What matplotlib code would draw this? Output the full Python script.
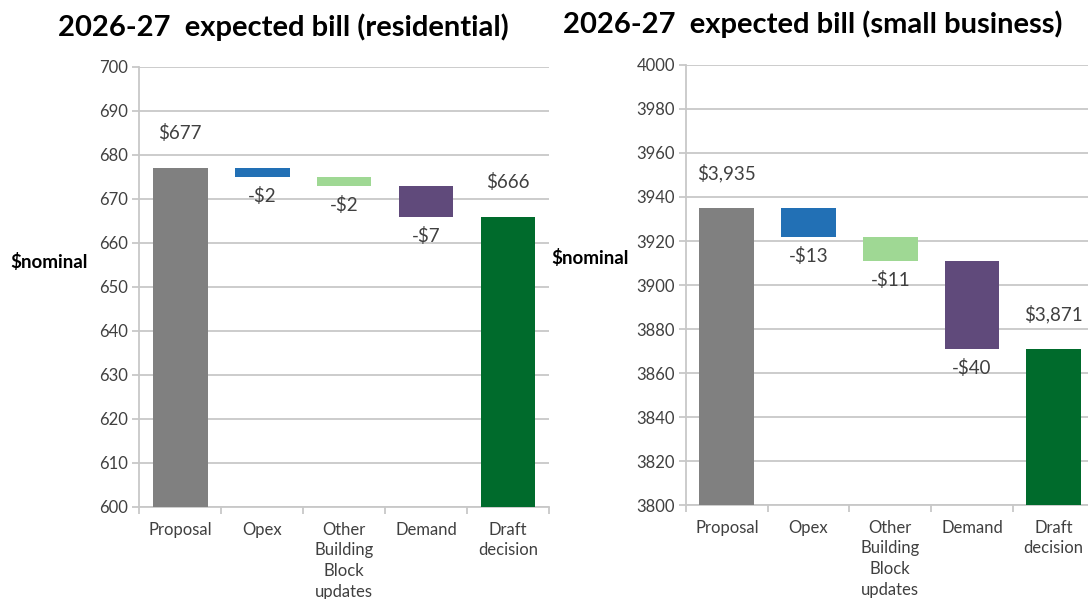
import numpy as np
import matplotlib
matplotlib.use('Agg')
from matplotlib import pyplot as plt

plt.rcParams['font.family'] = ['Lato', 'DejaVu Sans']

# waterfall steps for the 2026-27 bill
categories = ['Proposal', 'Opex', 'Other\nBuilding\nBlock\nupdates', 'Demand', 'Draft\ndecision']

res_start = 677
res_steps = [-2, -2, -7]
res_end = 666

sb_start = 3935
sb_steps = [-13, -11, -40]
sb_end = 3871

step_colors = ['#2270b5', '#9fd894', '#604a7b']
total_color_start = '#808080'
total_color_end = '#006b2c'
grid_color = '#c8c8c8'
text_color = '#404040'


def money(v):
    s = '${:,}'.format(abs(v))
    return '-' + s if v < 0 else s


def waterfall(ax, start, steps, end, ylim, yticks):
    x = np.arange(len(categories))
    width = 0.67
    # running bottoms for the floating steps
    level = start
    ax.bar(x[0], start - ylim[0], bottom=ylim[0], width=width, color=total_color_start, zorder=3)
    ax.annotate(money(start), (x[0], start), xytext=(0, 25), textcoords='offset points',
                ha='center', va='center', fontsize=13.5, color=text_color)
    for i, step in enumerate(steps):
        ax.bar(x[i + 1], -step, bottom=level + step, width=width, color=step_colors[i], zorder=3)
        ax.annotate(money(step), (x[i + 1], level + step), xytext=(0, -14), textcoords='offset points',
                    ha='center', va='center', fontsize=13.5, color=text_color)
        level += step
    ax.bar(x[-1], end - ylim[0], bottom=ylim[0], width=width, color=total_color_end, zorder=3)
    ax.annotate(money(end), (x[-1], end), xytext=(0, 25), textcoords='offset points',
                ha='center', va='center', fontsize=13.5, color=text_color)

    ax.set_xlim(-0.5, len(categories) - 0.5)
    ax.set_ylim(*ylim)
    ax.set_yticks(yticks)
    ax.set_xticks(np.arange(len(categories) + 1) - 0.5, minor=False)
    ax.set_xticklabels([])
    for i, c in enumerate(categories):
        ax.text(x[i], -0.033, c, transform=ax.get_xaxis_transform(), ha='center', va='top',
                fontsize=12, color=text_color, linespacing=1.36)
    ax.yaxis.grid(True, color=grid_color, linewidth=1.3, zorder=0)
    for side in ['top', 'right']:
        ax.spines[side].set_visible(False)
    for side in ['left', 'bottom']:
        ax.spines[side].set_color(grid_color)
        ax.spines[side].set_linewidth(1.3)
    ax.tick_params(axis='both', colors=grid_color, length=5, width=1.3)
    ax.tick_params(axis='y', labelsize=12, labelcolor=text_color, pad=3)
    ax.set_ylabel('$nominal', rotation=0, fontsize=13.5, fontweight='bold', color='black',
                  ha='left', va='center')


fig = plt.figure(figsize=(10.88, 5.99), dpi=100)

ax1 = fig.add_axes([0.1278, 0.1536, 0.3768, 0.7346])
waterfall(ax1, res_start, res_steps, res_end, (600, 700), np.arange(600, 701, 10))
ax1.yaxis.set_label_coords(-0.315, 0.557)

ax2 = fig.add_axes([0.6305, 0.1569, 0.3755, 0.7346])
waterfall(ax2, sb_start, sb_steps, sb_end, (3800, 4000), np.arange(3800, 4001, 20))
ax2.yaxis.set_label_coords(-0.33, 0.561)

fig.text(0.26, 0.955, '2026-27  expected bill (residential)', ha='center', va='center',
         fontsize=21, fontweight='bold', color='black')
fig.text(0.747, 0.96, '2026-27  expected bill (small business)', ha='center', va='center',
         fontsize=21, fontweight='bold', color='black')

fig.savefig('out.png', dpi=100)
